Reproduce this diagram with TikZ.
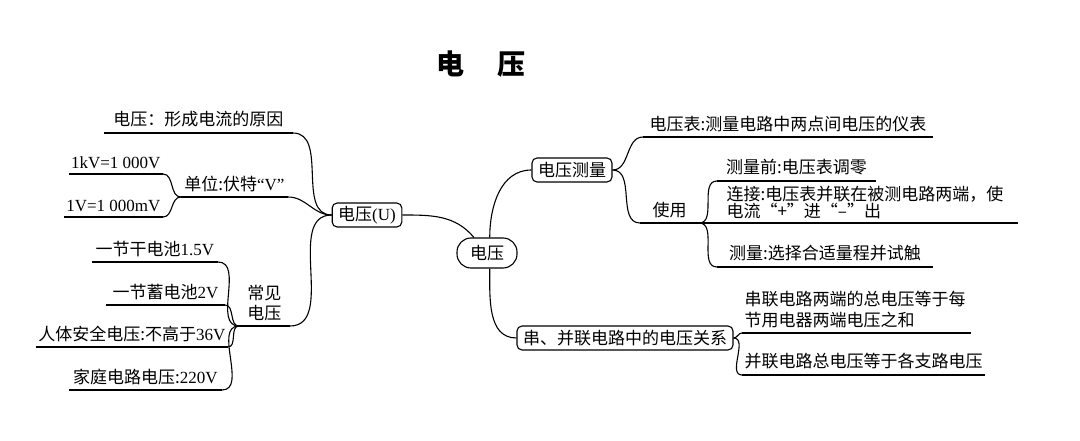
\documentclass[tikz,border=0pt]{standalone}
\usepackage{fontspec}
\setmainfont{Noto Sans CJK SC}
\newfontfamily\lat{Liberation Serif}
\usetikzlibrary{positioning}
\tikzset{
  every node/.style={font=\fontsize{17}{19}\selectfont},
  root/.style={draw, rounded corners=14pt, minimum width=60pt, minimum height=30pt},
  hub/.style={draw, rounded corners=5pt, inner xsep=6pt, inner ysep=2pt, minimum height=24pt},
  leaf/.style={inner xsep=2pt, inner ysep=5pt},
}
\begin{document}
\begin{tikzpicture}[x=1pt,y=-1pt,line width=1.1pt]
\useasboundingbox (0,0) rectangle (1080,441);
\node (title) at (481,64) {\fontsize{28}{30}\selectfont\bfseries 电\hspace{1.15em}压};

\node[root] (v) at (487,253) {电压};
\node[hub] (u) at (367,215) {电压\lat{(U)}};
\node[hub] (m) at (572,170) {电压测量};
\node[hub] (s) at (625,338) {串、并联电路中的电压关系};

% left side
\node[leaf, anchor=south east, minimum width=188pt] (cause) at (293,133) {电压：形成电流的原因};
\node[leaf, anchor=south east, minimum width=106pt] (unit) at (288,197) {单位:伏特\lat{“V”}};
\node[leaf, anchor=south east, minimum width=93pt] (kv) at (163,174) {\lat{1kV=1 000V}};
\node[leaf, anchor=south east, minimum width=95pt] (mv) at (163,217) {\lat{1V=1 000mV}};
\node[leaf, anchor=south east, minimum width=50pt, align=center,
  font=\fontsize{17}{20}\selectfont] (common) at (290,326) {常见\\电压};
\node[leaf, anchor=south east, minimum width=125pt] (dry) at (218,262) {一节干电池\lat{1.5V}};
\node[leaf, anchor=south east, minimum width=118pt] (lead) at (225,305) {一节蓄电池\lat{2V}};
\node[leaf, anchor=south east, minimum width=186pt] (safe) at (228,347) {人体安全电压:不高于\lat{36V}};
\node[leaf, anchor=south east, minimum width=152pt] (home) at (222,390) {家庭电路电压:\lat{220V}};

% right side
\node[leaf, anchor=south west, minimum width=289pt] (meter) at (643,137) {电压表:测量电路中两点间电压的仪表};
\node[leaf, anchor=south west, minimum width=58pt] (use) at (640,223) {使用};
\node[leaf, anchor=south west, minimum width=158pt] (zero) at (717,181) {测量前:电压表调零};
\node[leaf, anchor=south west, inner ysep=4pt, text width=289pt, align=left,
  font=\fontsize{17}{17}\selectfont] (link) at (724,223) {连接:电压表并联在被测电路两端，使\\电流“+”进“–”出};
\node[leaf, anchor=south west, minimum width=215pt] (range) at (717,267) {测量:选择合适量程并试触};
\node[leaf, anchor=south west, text width=224pt, align=left,
  font=\fontsize{17}{21}\selectfont] (series) at (742,333) {串联电路两端的总电压等于每\\节用电器两端电压之和};
\node[leaf, anchor=south west, minimum width=236pt] (parallel) at (742,375) {并联电路总电压等于各支路电压};

% underlines
\foreach \n in {cause,unit,kv,mv,common,dry,lead,safe,home,meter,use,zero,range,series,parallel}
  \draw (\n.south west) -- (\n.south east);
\draw (use.south east) -- (link.south east);

% connectors
\draw (u.east) to[out=0,in=130] (v.130);
\draw (v.80) to[out=90,in=180] (m.west);
\draw (v.280) to[out=270,in=180] (s.west);

\draw (u.west) to[out=180,in=0] (cause.south east);
\draw (u.west) to[out=180,in=0] (unit.south east);
\draw (u.west) to[out=180,in=0] (common.south east);
\draw (unit.south west) to[out=180,in=0] (kv.south east);
\draw (unit.south west) to[out=180,in=0] (mv.south east);
\foreach \n in {dry,lead,safe,home}
  \draw (common.south west) to[out=180,in=0] (\n.south east);

\draw (m.east) to[out=0,in=180] (meter.south west);
\draw (m.east) to[out=0,in=180] (use.south west);
\draw (use.south east) to[out=0,in=180] (zero.south west);
\draw (use.south east) to[out=0,in=180] (range.south west);
\draw (s.east) to[out=0,in=180] (series.south west);
\draw (s.east) to[out=0,in=180] (parallel.south west);
\end{tikzpicture}
\end{document}
